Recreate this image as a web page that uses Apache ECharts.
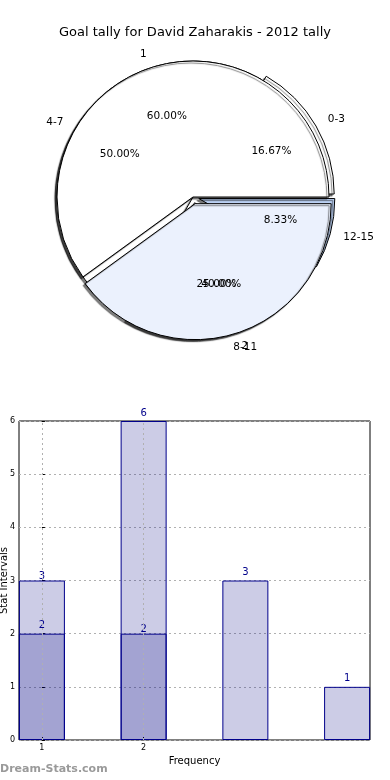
<!DOCTYPE html>
<html><head><meta charset="utf-8">
<script src="https://cdn.jsdelivr.net/npm/echarts@6/dist/echarts.min.js"></script>
<style>html,body{margin:0;padding:0;background:#fff}#c{width:390px;height:780px}</style>
</head><body><div id="c"></div>
<script>
const chartTitle = 'Goal tally for David Zaharakis - 2012 tally';
const intervalLabels = ['0-3', '4-7', '8-11', '12-15'];
const intervalCounts = [2, 6, 3, 1];
const tallyLabels = ['1', '2'];
const tallyCounts = [3, 2];
const xAxisName = 'Frequency';
const yAxisName = 'Stat Intervals';
const watermark = 'Dream-Stats.com';

const FONT = 'DejaVu Sans';
const C = [193, 197], R = 136;
const intervalColors = ['#ffffff', '#ffffff', '#eaf0fc', '#bcd2f5'];
const tallyColors = ['#ffffff', '#ebf1fd'];
const explodedIntervals = ['0-3', '8-11', '12-15'];
const explodedTally = ['2'];

function pieData(labels, values, colors, exploded) {
  return labels.map((n, i) => ({
    name: n, value: values[i], selected: exploded.includes(n),
    itemStyle: { color: colors ? colors[i] : 'rgba(0,0,0,0)' }
  }));
}
function fillPie(labels, values, colors, exploded, offset, z) {
  return {
    type: 'pie', center: C, radius: [0, R], startAngle: 0, clockwise: false, z: z,
    selectedMode: 'multiple', selectedOffset: offset, avoidLabelOverlap: false, silent: true,
    data: pieData(labels, values, colors, exploded),
    itemStyle: { borderColor: '#000', borderWidth: 1, shadowColor: 'rgba(0,0,0,0.5)', shadowOffsetX: -2, shadowOffsetY: 2, shadowBlur: 1 },
    select: { itemStyle: { borderColor: '#000', borderWidth: 1 } },
    label: { show: true, position: 'outside', formatter: '{b}', color: '#000', fontFamily: FONT, fontSize: 10.5, distanceToLabelLine: 0, overflow: 'none' },
    labelLine: { show: false, length: R * 0.1, length2: 0 },
    labelLayout: { hideOverlap: false },
    emphasis: { disabled: true }
  };
}
function pctPie(labels, values, exploded, offset) {
  return {
    type: 'pie', center: C, radius: [0, R * 1.2], startAngle: 0, clockwise: false, z: 10,
    selectedMode: 'multiple', selectedOffset: offset, avoidLabelOverlap: false, silent: true,
    data: pieData(labels, values, null, exploded),
    itemStyle: { borderWidth: 0 },
    select: { itemStyle: { color: 'rgba(0,0,0,0)', borderWidth: 0 } },
    label: { show: true, position: 'inside', formatter: p => p.percent.toFixed(2) + '%', color: '#000', fontFamily: FONT, fontSize: 10.5, overflow: 'none' },
    labelLine: { show: false },
    labelLayout: { hideOverlap: false },
    emphasis: { disabled: true }
  };
}

const barStyle = { color: 'rgba(0,0,128,0.2)', borderColor: '#00008b', borderWidth: 1 };
const chart = echarts.init(document.getElementById('c'), null, { renderer: 'canvas' });
chart.setOption({
  animation: false,
  backgroundColor: '#fff',
  textStyle: { fontFamily: FONT },
  title: { text: chartTitle, left: 'center', top: 21, textStyle: { fontFamily: FONT, fontSize: 13, fontWeight: 'normal', color: '#000' } },
  graphic: [{ type: 'text', left: 0, top: 764, style: { text: watermark, fill: '#9a9a9a', font: 'bold 11px "DejaVu Sans"' } }],
  grid: { left: 19, right: 20, top: 421, bottom: 40, containLabel: false, outerBoundsMode: 'none', show: true, borderColor: '#000', borderWidth: 1, backgroundColor: 'rgba(0,0,0,0)' },
  xAxis: {
    type: 'value', min: -0.225, max: 3.225,
    name: xAxisName, nameLocation: 'middle', nameGap: 16, nameMoveOverlap: false,
    nameTextStyle: { fontFamily: FONT, fontSize: 10, color: '#000' },
    axisLine: { show: false }, splitLine: { show: false },
    axisTick: { show: true, inside: true, length: 3, customValues: [0, 1], lineStyle: { color: '#000' } },
    axisLabel: { customValues: [0, 1], formatter: v => tallyLabels[Math.round(v)], fontSize: 8, margin: 4, color: '#000', fontFamily: FONT }
  },
  yAxis: {
    type: 'value', min: 0, max: 6, interval: 1,
    name: yAxisName, nameLocation: 'middle', nameGap: 10, nameMoveOverlap: false, nameRotate: 90,
    nameTextStyle: { fontFamily: FONT, fontSize: 10, color: '#000' },
    axisLine: { show: false },
    axisTick: { show: true, inside: true, length: 3, lineStyle: { color: '#000' } },
    axisLabel: { fontSize: 8, margin: 4, color: '#000', fontFamily: FONT },
    splitLine: { show: true, lineStyle: { type: [2, 3], color: '#b0b0b0' } }
  },
  series: [
    fillPie(intervalLabels, intervalCounts, intervalColors, explodedIntervals, 6, 2),
    fillPie(tallyLabels, tallyCounts, tallyColors, explodedTally, 7, 3),
    pctPie(intervalLabels, intervalCounts, explodedIntervals, 6),
    pctPie(tallyLabels, tallyCounts, explodedTally, 7),
    {
      type: 'bar', data: intervalCounts.map((v, i) => [i, v]), barWidth: 46, barGap: '-100%',
      itemStyle: barStyle, silent: true,
      label: { show: true, position: 'top', distance: 3, color: '#00008b', fontSize: 10, fontFamily: FONT },
      markLine: { silent: true, symbol: 'none', label: { show: false }, lineStyle: { type: [2, 3], color: '#b0b0b0', width: 1 },
        data: tallyLabels.map((t, i) => ({ xAxis: i })) }
    },
    {
      type: 'bar', data: tallyCounts.map((v, i) => [i, v]), barWidth: 46, barGap: '-100%',
      itemStyle: barStyle, silent: true,
      label: { show: true, position: 'top', distance: -1, color: '#00008b', fontSize: 10, fontFamily: FONT }
    }
  ]
});
</script></body></html>
